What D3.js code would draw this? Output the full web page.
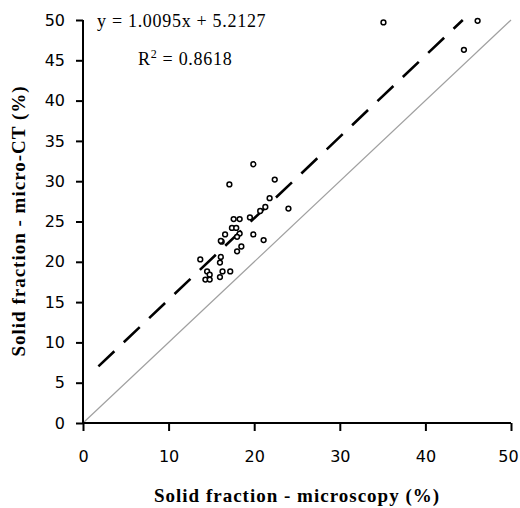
<!DOCTYPE html>
<html>
<head>
<meta charset="utf-8">
<script src="https://cdn.jsdelivr.net/npm/d3@7"></script>
<style>
  body { margin: 0; background: #fff; }
</style>
</head>
<body>
<div id="chart"></div>
<script>
// data: microscopy (x) vs micro-CT (y), in %
var microscopy = [35.1, 46.1, 44.5, 19.9, 17.1, 22.4, 21.8, 24.0, 20.7, 21.3,
  17.6, 18.3, 19.5, 17.4, 17.9, 18.3, 16.6, 19.9, 21.1, 18.0,
  16.2, 18.5, 18.0, 13.7, 16.1, 16.0, 14.5, 14.8, 16.3, 17.2,
  14.3, 14.8, 16.0, 16.1];
var microCT = [49.7, 49.9, 46.3, 32.1, 29.6, 30.2, 27.9, 26.6, 26.3, 26.8,
  25.3, 25.3, 25.5, 24.2, 24.2, 23.5, 23.4, 23.4, 22.7, 23.1,
  22.5, 21.9, 21.3, 20.3, 20.6, 19.9, 18.8, 18.4, 18.8, 18.8,
  17.8, 17.8, 18.1, 22.6];
var xTicks = [0, 10, 20, 30, 40, 50];
var yTicks = [0, 5, 10, 15, 20, 25, 30, 35, 40, 45, 50];
// trend line y = 1.0095x + 5.2127, drawn from x = 1.8
var slope = 1.0095, intercept = 5.2127, fitStart = 1.8;

var width = 520, height = 508;
var margin = {top: 20, right: 9, bottom: 85, left: 83};

var svg = d3.select('#chart')
  .append('svg')
  .attr('width', width)
  .attr('height', height);

var x = d3.scaleLinear().domain([0, 50]).range([margin.left, width - margin.right]);
var y = d3.scaleLinear().domain([0, 50]).range([height - margin.bottom, margin.top]);

// 1:1 line
svg.append('line')
  .attr('x1', x(0)).attr('y1', y(0))
  .attr('x2', x(50)).attr('y2', y(50))
  .attr('stroke', '#a0a0a0')
  .attr('stroke-width', 1.2);

// regression line, stopped where it leaves the top
var fitEnd = (50 - intercept) / slope;
svg.append('line')
  .attr('x1', x(fitStart)).attr('y1', y(slope * fitStart + intercept))
  .attr('x2', x(fitEnd)).attr('y2', y(50))
  .attr('stroke', '#000')
  .attr('stroke-width', 2.6)
  .attr('stroke-dasharray', '22,13');

// points
svg.selectAll('circle.pt')
  .data(microscopy)
  .enter()
  .append('circle')
  .attr('class', 'pt')
  .attr('cx', function(d) { return x(d); })
  .attr('cy', function(d, i) { return y(microCT[i]); })
  .attr('r', 2.4)
  .attr('fill', '#fff')
  .attr('stroke', '#000')
  .attr('stroke-width', 1.5);

// axes
var xAxis = svg.append('g')
  .attr('transform', 'translate(0,' + y(0) + ')')
  .call(d3.axisBottom(x).tickValues(xTicks).tickSize(8).tickPadding(20));
var yAxis = svg.append('g')
  .attr('transform', 'translate(' + x(0) + ',0)')
  .call(d3.axisLeft(y).tickValues(yTicks).tickSize(7).tickPadding(11));

[xAxis, yAxis].forEach(function(ax) {
  ax.select('.domain').attr('stroke', '#000').attr('stroke-width', 2);
  ax.selectAll('.tick line').attr('stroke', '#000').attr('stroke-width', 2);
  ax.selectAll('.tick text')
    .attr('fill', '#000')
    .style('font-family', 'DejaVu Sans, sans-serif')
    .style('font-size', '16px');
});
// last x label sits right at the edge, pull it in a little
xAxis.selectAll('.tick text').filter(function(d) { return d === 50; }).attr('dx', -3);
// axis lines have no end caps in the original
xAxis.select('.domain').attr('d', 'M' + x(0) + ',0H' + x(50));
yAxis.select('.domain').attr('d', 'M0,' + y(0) + 'V' + y(50));

// equation text
var serif = 'Liberation Serif, Times New Roman, serif';
svg.append('text')
  .attr('x', 97).attr('y', 27)
  .style('font-family', serif).style('font-size', '18px')
  .style('letter-spacing', '0.7px')
  .text('y = 1.0095x + 5.2127');
var r2 = svg.append('text')
  .attr('x', 138).attr('y', 65)
  .style('font-family', serif).style('font-size', '18px')
  .style('letter-spacing', '0.7px');
r2.append('tspan').text('R');
r2.append('tspan').attr('dy', -7).style('font-size', '12px').text('2');
r2.append('tspan').attr('dy', 7).text(' = 0.8618');

// axis titles
svg.append('text')
  .attr('x', 297).attr('y', 502)
  .attr('text-anchor', 'middle')
  .style('font-family', serif).style('font-size', '19px').style('font-weight', 'bold')
  .style('letter-spacing', '1px')
  .text('Solid fraction - microscopy (%)');
svg.append('text')
  .attr('transform', 'translate(25,221) rotate(-90)')
  .attr('text-anchor', 'middle')
  .style('font-family', serif).style('font-size', '19px').style('font-weight', 'bold')
  .style('letter-spacing', '1px')
  .text('Solid fraction - micro-CT (%)');
</script>
</body>
</html>
